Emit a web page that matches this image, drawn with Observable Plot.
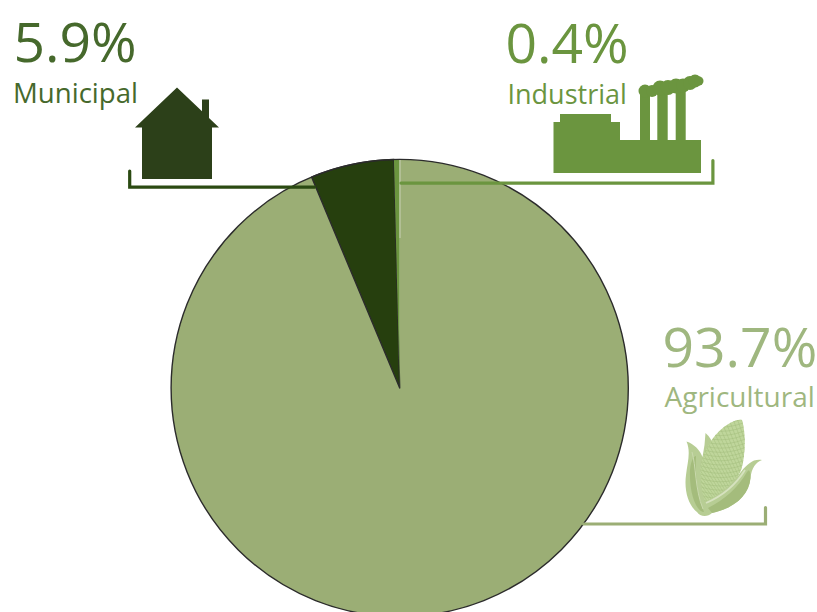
<!DOCTYPE html>
<html>
<head>
<meta charset="utf-8">
<script src="https://cdn.jsdelivr.net/npm/d3@7"></script>
<script src="https://cdn.jsdelivr.net/npm/@observablehq/plot@0.6"></script>
<style>
html,body{margin:0;padding:0;background:#fff;overflow:hidden}
svg{display:block}
</style>
</head>
<body>
<div id="chart"></div>
<script>
// Data
const categories = ["Agricultural", "Municipal", "Industrial"];
const shares = [93.7, 5.9, 0.4];
const shareLabels = ["93.7%", "5.9%", "0.4%"];

// Styling and layout, kept apart from the data
const sliceColors = ["#9bae75", "#263f0e", "#6b953f"];
const textColors = ["#9fb77f", "#46692c", "#6b953f"];
const lineColors = ["#9bae75", "#2b4a12", "#6b953f"];
const sliceOrder = [0, 1, 2];
const sliceStrokes = ["none", "#2b2b2b", "none"];
const valueX = [662, 13, 505];
const valueY = [366, 61, 62];
const valueSize = [55.2, 55.2, 55.2];
const labelX = [664, 12.5, 507];
const labelY = [406, 102, 103];
const labelSize = [28, 27.6, 27];
const pieCenter = [399.7, 388];
const pieRadius = 228.6;
const brackets = [
  [[583, 523.5], [765, 523.5], [765, 507]],
  [[314, 186.7], [129.2, 186.7], [129.2, 170.5]],
  [[400.5, 182.6], [712.4, 182.6], [712.4, 160]]
];
const bracketRows = brackets.flatMap((points, i) => points.map(([x, y]) => ({x, y, i})));

function pie(index, {x, y}) {
  const g = d3.create("svg:g")
    .attr("transform", `translate(${x(pieCenter[0])},${y(pieCenter[1])})`);
  const arcs = d3.pie().sort(null)(shares);
  const arc = d3.arc().innerRadius(0).outerRadius(pieRadius);
  g.selectAll("path").data(sliceOrder).join("path")
    .attr("d", i => arc(arcs[i]))
    .attr("fill", i => sliceColors[i])
    .attr("stroke", i => sliceStrokes[i])
    .attr("stroke-width", 1.4)
    .attr("stroke-linejoin", "round");
  g.append("line").attr("x1", 0.3).attr("x2", 0.3).attr("y1", -150).attr("y2", -pieRadius)
    .attr("stroke", "#d5dac6").attr("stroke-width", 0.8);
  g.append("circle").attr("r", pieRadius)
    .attr("fill", "none").attr("stroke", "#2b2b2b").attr("stroke-width", 1.4);
  return g.node();
}

function house() {
  return d3.create("svg:path")
    .attr("fill", "#2c4019")
    .attr("d", "M177 87.5L202 111.3V99.5H209V118L219 127.5H212V179H142V127.5H135Z")
    .node();
}

function factory() {
  const g = d3.create("svg:g").attr("fill", "#6b953f");
  g.append("path").attr("d",
    "M553.5 173V122H560V114H611V122H620V140H640V90H650V140H657.3V90H667.7V140H675.7V88H685.7V140H701V173Z");
  const puffs = [[645,91,6.5],[652,91,6],[660,88,7.5],[668,87.5,7.5],[676,86,7.5],[683,85.5,7],[690,83,7],[695,81,6.5],[699,81,4.5]];
  g.selectAll("circle").data(puffs).join("circle")
    .attr("cx", d => d[0]).attr("cy", d => d[1]).attr("r", d => d[2]);
  return g.node();
}

function corn() {
  const g = d3.create("svg:g");
  const cob = "M705 502C700 485 699 470 702 460C705 447 716 431 730 423C735 420 740 419 742 420C745 430 745.5 445 744 455C743 465 741 472 738 476C730 486 716 497 705 502Z";
  // husk, lighter on the leaves and darker in the belly
  g.append("path").attr("fill", "#b7cd94").attr("d",
    "M686.5 441.5C694 444 700 450 702.5 457L704.5 445L705.5 433C710 437 712.5 441 713 446L738 476C742 470 748 463 754 460.5C757 459.5 760 459.5 762 460C756 462 751.5 468 750.5 478C749 495 735 508 712 513C708 517 700 517 697 512C688 505 684 490 686 475C687.5 462 691 452 686.5 441.5Z");
  g.append("path").attr("fill", "#a4bc7c").attr("d",
    "M708 508C724 500 738 488 747 472C749.5 468 750.5 472 750.5 478C749 495 735 508 712 513Z");
  g.append("path").attr("fill", "#a4bc7c").attr("d",
    "M690 470C691 460 694 456 696 456C695 472 697 495 704 512C697 512 689 495 690 470Z");
  // cob with its kernel grid
  const clipId = "cob-clip";
  g.append("clipPath").attr("id", clipId).append("path").attr("d", cob);
  g.append("path").attr("fill", "#bfd69b").attr("d", cob);
  const grid = g.append("g").attr("clip-path", `url(#${clipId})`)
    .attr("stroke", "#a3bd7d").attr("stroke-width", 0.5).attr("fill", "none");
  for (let k = -60; k < 100; k += 4.2) {
    grid.append("path").attr("d", `M${680 + k} 420L${735 + k * 0.6} 510`);
    grid.append("path").attr("d", `M690 ${412 + k}Q720 ${428 + k} 752 ${412 + k}`);
  }
  // pale husk streaks
  g.append("path").attr("fill", "none").attr("stroke", "#d6e2bf").attr("stroke-width", 1.8)
    .attr("d", "M706 503C720 497 735 486 745 470");
  g.append("path").attr("fill", "none").attr("stroke", "#c9d9ad").attr("stroke-width", 1)
    .attr("d", "M692 452C696 465 695 490 703 509");
  return g.node();
}

const idx = d3.range(categories.length);

const plot = Plot.plot({
  width: 817,
  height: 612,
  margin: 0,
  x: {domain: [0, 817], range: [0, 817], axis: null},
  y: {domain: [0, 612], range: [0, 612], axis: null},
  style: {background: "#fff", fontFamily: "'Open Sans', sans-serif"},
  marks: [
    pie,
    Plot.line(bracketRows, {
      x: "x", y: "y", z: "i",
      stroke: d => lineColors[d.i],
      strokeWidth: 3.2,
      strokeLinejoin: "miter",
      strokeMiterlimit: 4,
      curve: "linear"
    }),
    house,
    factory,
    corn,
    Plot.text(idx, {
      x: i => valueX[i], y: i => valueY[i],
      text: i => shareLabels[i],
      fill: i => textColors[i],
      fontSize: i => valueSize[i],
      textAnchor: "start",
      lineAnchor: "bottom"
    }),
    Plot.text(idx, {
      x: i => labelX[i], y: i => labelY[i],
      text: i => categories[i],
      fill: i => textColors[i],
      fontSize: i => labelSize[i],
      textAnchor: "start",
      lineAnchor: "bottom"
    })
  ]
});
document.getElementById("chart").appendChild(plot);
</script>
</body>
</html>
